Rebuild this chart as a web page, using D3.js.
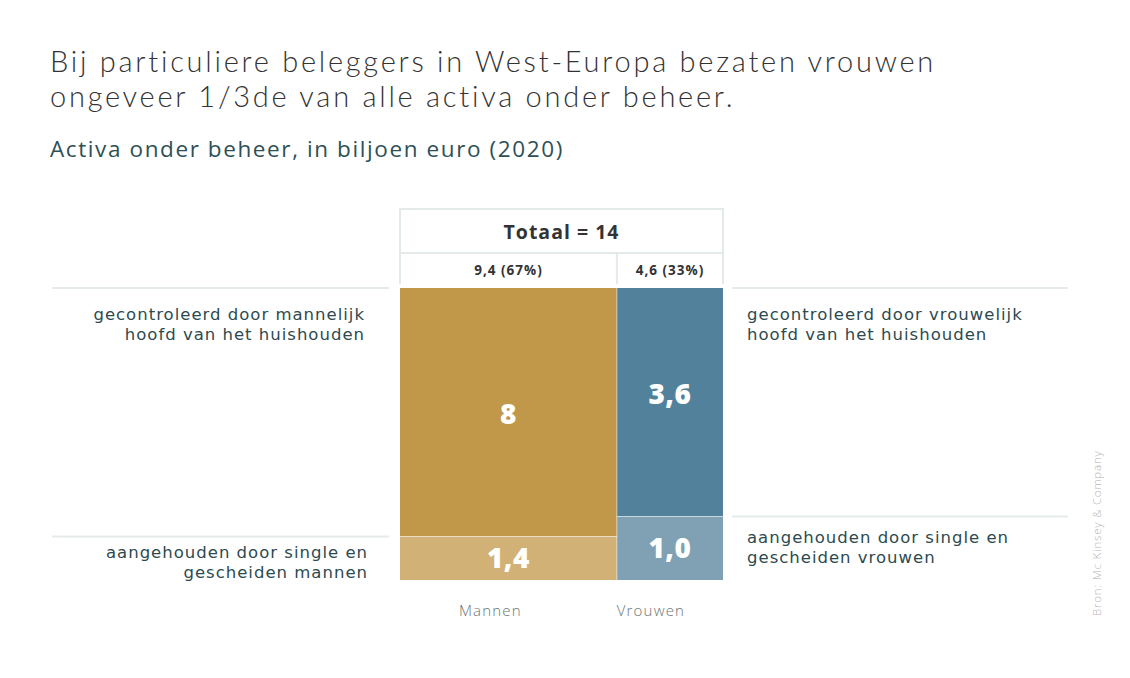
<!DOCTYPE html>
<html><head><meta charset="utf-8">
<script src="https://cdn.jsdelivr.net/npm/d3@7"></script>
<style>
body{margin:0;background:#fff;}
svg{display:block;}
</style></head>
<body>
<svg id="chart" width="1130" height="678"></svg>
<script>
// ---- data ----
const groups = ["Mannen", "Vrouwen"];
const groupTotals = [9.4, 4.6];
const groupLabels = ["9,4 (67%)", "4,6 (33%)"];
const controlled = [8, 3.6];      // gecontroleerd door hoofd van het huishouden
const single = [1.4, 1.0];        // aangehouden door single en gescheiden
const controlledLabels = ["8", "3,6"];
const singleLabels = ["1,4", "1,0"];
const totalLabel = "Totaal = 14";
const titleLines = ["Bij particuliere beleggers in West-Europa bezaten vrouwen", "ongeveer 1/3de van alle activa onder beheer."];
const subtitle = "Activa onder beheer, in biljoen euro (2020)";
const leftLabelsTop = ["gecontroleerd door mannelijk", "hoofd van het huishouden"];
const leftLabelsBottom = ["aangehouden door single en", "gescheiden mannen"];
const rightLabelsTop = ["gecontroleerd door vrouwelijk", "hoofd van het huishouden"];
const rightLabelsBottom = ["aangehouden door single en", "gescheiden vrouwen"];
const source = "Bron: Mc Kinsey & Company";

const colorsTop = ["#c1974a", "#52829b"];
const colorsBottom = ["#d2b176", "#7fa1b3"];

const svg = d3.select("#chart");
const font = "'Open Sans', 'Noto Sans', sans-serif";
const titleFont = "Lato, 'Open Sans', sans-serif";
const labelFont = "'DejaVu Sans', 'Open Sans', sans-serif";

// titles
titleLines.forEach((t, i) => {
  svg.append("text").attr("x", 50).attr("y", 72 + i * 35)
    .attr("font-family", titleFont).attr("font-weight", 300).attr("font-size", 29).attr("fill", "#333")
    .attr("letter-spacing", 2.75).text(t);
});
svg.append("text").attr("x", 50).attr("y", 157)
  .attr("font-family", font).attr("font-size", 22.5).attr("fill", "#2e5055")
  .attr("letter-spacing", 1.6).text(subtitle);

// scales
const total = d3.sum(groupTotals);
const x = d3.scaleLinear().domain([0, total]).range([400, 723]);
const y = d3.scaleLinear().domain([0, 1]).range([580, 288]);
const starts = d3.cumsum([0, ...groupTotals]);

const cols = groups.map((g, i) => ({
  g, i, x0: x(starts[i]), x1: x(starts[i + 1]),
  fracBottom: single[i] / groupTotals[i]
}));

// header box
const hb = svg.append("g");
const borderC = "#e4eaea";
hb.append("line").attr("x1", 399).attr("x2", 724).attr("y1", 209).attr("y2", 209).attr("stroke", borderC).attr("stroke-width", 2);
hb.append("line").attr("x1", 399).attr("x2", 724).attr("y1", 253).attr("y2", 253).attr("stroke", borderC).attr("stroke-width", 2);
hb.append("line").attr("x1", 400).attr("x2", 400).attr("y1", 208).attr("y2", 284).attr("stroke", borderC).attr("stroke-width", 2);
hb.append("line").attr("x1", 723).attr("x2", 723).attr("y1", 208).attr("y2", 284).attr("stroke", borderC).attr("stroke-width", 2);
hb.append("line").attr("x1", x(starts[1])).attr("x2", x(starts[1])).attr("y1", 253).attr("y2", 284).attr("stroke", borderC).attr("stroke-width", 2);
hb.append("text").attr("x", (x(0) + x(total)) / 2).attr("y", 239).attr("text-anchor", "middle")
  .attr("font-family", font).attr("font-weight", 700).attr("font-size", 19.5).attr("fill", "#333")
  .attr("letter-spacing", 1).text(totalLabel);
hb.selectAll("text.gl").data(cols).join("text").attr("class", "gl")
  .attr("x", d => (d.x0 + d.x1) / 2).attr("y", 275).attr("text-anchor", "middle")
  .attr("font-family", font).attr("font-weight", 700).attr("font-size", 13.5).attr("fill", "#333")
  .attr("letter-spacing", 1).text(d => groupLabels[d.i]);

// guide lines
const lineC = "#e5ebea";
const gl = svg.append("g").attr("stroke", lineC).attr("stroke-width", 2);
gl.append("line").attr("x1", 52).attr("x2", 389).attr("y1", y(1)).attr("y2", y(1));
gl.append("line").attr("x1", 52).attr("x2", 389).attr("y1", y(cols[0].fracBottom)).attr("y2", y(cols[0].fracBottom));
gl.append("line").attr("x1", 732).attr("x2", 1068).attr("y1", y(1)).attr("y2", y(1));
gl.append("line").attr("x1", 732).attr("x2", 1068).attr("y1", y(cols[1].fracBottom)).attr("y2", y(cols[1].fracBottom));

// bars
const bars = svg.append("g");
bars.selectAll("rect.top").data(cols).join("rect").attr("class", "top")
  .attr("x", d => d.x0).attr("width", d => d.x1 - d.x0)
  .attr("y", y(1)).attr("height", d => y(d.fracBottom) - y(1))
  .attr("fill", d => colorsTop[d.i]);
bars.selectAll("rect.bot").data(cols).join("rect").attr("class", "bot")
  .attr("x", d => d.x0).attr("width", d => d.x1 - d.x0)
  .attr("y", d => y(d.fracBottom)).attr("height", d => y(0) - y(d.fracBottom))
  .attr("fill", d => colorsBottom[d.i]);
// thin separators
bars.selectAll("line.sep").data(cols).join("line").attr("class", "sep")
  .attr("x1", d => d.x0).attr("x2", d => d.x1)
  .attr("y1", d => y(d.fracBottom)).attr("y2", d => y(d.fracBottom))
  .attr("stroke", "#fff").attr("stroke-opacity", 0.5).attr("stroke-width", 1);
bars.append("line").attr("x1", x(starts[1])).attr("x2", x(starts[1])).attr("y1", y(1)).attr("y2", y(0))
  .attr("stroke", "#fff").attr("stroke-opacity", 0.5).attr("stroke-width", 1);

// value labels
bars.selectAll("text.vt").data(cols).join("text").attr("class", "vt")
  .attr("x", d => (d.x0 + d.x1) / 2).attr("y", d => (y(1) + y(d.fracBottom)) / 2 + (d.i ? 2 : 12))
  .attr("text-anchor", "middle").attr("font-family", font).attr("font-weight", 800)
  .attr("font-size", 28).attr("fill", "#fff").attr("letter-spacing", 0.5).text(d => controlledLabels[d.i]);
bars.selectAll("text.vb").data(cols).join("text").attr("class", "vb")
  .attr("x", d => (d.x0 + d.x1) / 2).attr("y", d => (y(0) + y(d.fracBottom)) / 2 + 10)
  .attr("text-anchor", "middle").attr("font-family", font).attr("font-weight", 800)
  .attr("font-size", 28).attr("fill", "#fff").attr("letter-spacing", 0.5).text(d => singleLabels[d.i]);

// category labels
svg.selectAll("text.cat").data(cols).join("text").attr("class", "cat")
  .attr("x", d => (d.x0 + d.x1) / 2 - (d.i ? 19 : 18)).attr("y", 616).attr("text-anchor", "middle")
  .attr("font-family", font).attr("font-weight", 300).attr("font-size", 15).attr("fill", "#6b7575")
  .attr("letter-spacing", 1.2).text(d => d.g);

// side labels
function block(lines, xx, yy, anchor) {
  lines.forEach((t, i) => {
    svg.append("text").attr("x", xx).attr("y", yy + i * 20).attr("text-anchor", anchor)
      .attr("font-family", labelFont).attr("font-size", 16.5).attr("fill", "#2d4a4f").attr("letter-spacing", 1)
      .text(t);
  });
}
block(leftLabelsTop, 365, 320, "end");
block(leftLabelsBottom, 368, y(cols[0].fracBottom) + 21, "end");
block(rightLabelsTop, 747, 320, "start");
block(rightLabelsBottom, 747, y(cols[1].fracBottom) + 26, "start");

// source
svg.append("text").attr("transform", "translate(1101,616) rotate(-90)")
  .attr("font-family", font).attr("font-weight", 300).attr("font-size", 11.5).attr("fill", "#b5b5b5")
  .attr("letter-spacing", 0.8).text(source);
</script>
</body></html>
